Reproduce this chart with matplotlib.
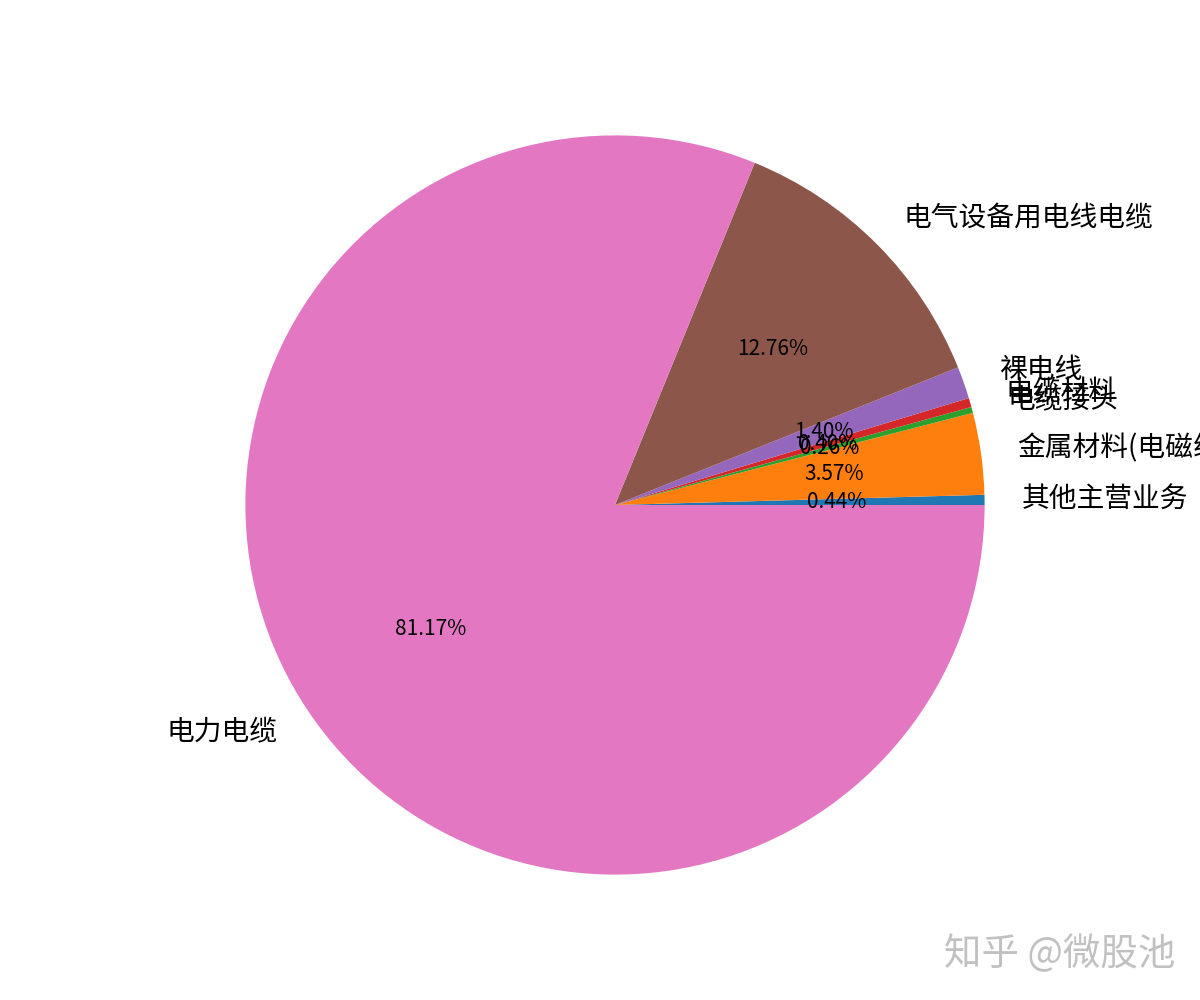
import matplotlib
matplotlib.use("Agg")
import matplotlib.pyplot as plt

plt.rcParams['font.family'] = ['Noto Sans CJK SC', 'DejaVu Sans']

categories = ['其他主营业务', '金属材料(电磁线)', '电缆接头', '电缆材料', '裸电线', '电气设备用电线电缆', '电力电缆']
values = [0.44, 3.57, 0.26, 0.40, 1.40, 12.76, 81.17]

fig = plt.figure(figsize=(12, 10), dpi=100)
ax = fig.add_subplot(111)
wedges, texts, autotexts = ax.pie(values, labels=categories, autopct='%1.2f%%', radius=1.2,
                                  textprops={'fontsize': 20})
for t in autotexts:
    t.set_fontsize(15)
fig.text(0.787, 0.035, '知乎 @微股池', fontsize=27, color='#bbbbbb', alpha=0.9)
fig.savefig('out.png', dpi=100)
